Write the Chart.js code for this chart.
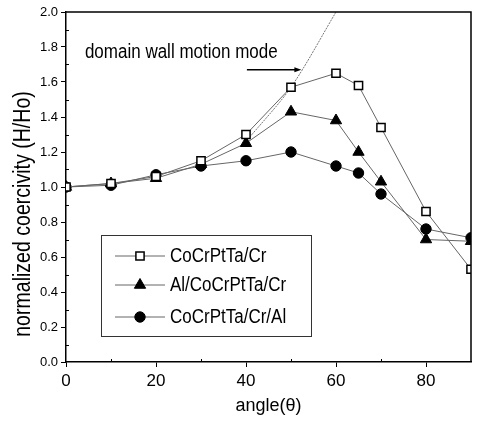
<!DOCTYPE html>
<html>
<head>
<meta charset="utf-8">
<script src="https://cdn.jsdelivr.net/npm/chart.js@4/dist/chart.umd.min.js"></script>
<style>
  html, body { margin: 0; padding: 0; background: #fff; }
  #wrap { width: 483px; height: 421px; position: relative; }
</style>
</head>
<body>
<div id="wrap"><canvas id="c" width="483" height="421"></canvas></div>
<script>
// Field angle (degrees) at which each coercivity was measured
const angles = [0, 10, 20, 30, 40, 50, 60, 65, 70, 80, 90];

// Normalized coercivity H/Ho for each film stack
const cocrpttaCr    = [1.00, 1.02, 1.06, 1.15, 1.30, 1.57, 1.65, 1.58, 1.34, 0.86, 0.53];
const alCocrpttaCr  = [1.00, 1.02, 1.05, 1.13, 1.25, 1.43, 1.38, 1.20, 1.03, 0.70, 0.69];
const cocrpttaCrAl  = [1.00, 1.01, 1.07, 1.12, 1.15, 1.20, 1.12, 1.08, 0.96, 0.76, 0.71];

// Domain-wall-motion reference curve
const wallAngles = [40, 50, 60];
const wallValues = [1.26, 1.57, 2.00];

// Axis ticks
const xTickValues = [0, 20, 40, 60, 80];
const xMinorTicks = [10, 30, 50, 70];
const yTickValues = [0.0, 0.2, 0.4, 0.6, 0.8, 1.0, 1.2, 1.4, 1.6, 1.8, 2.0];

// Text
const seriesLabels = ['CoCrPtTa/Cr', 'Al/CoCrPtTa/Cr', 'CoCrPtTa/Cr/Al'];
const annotationText = 'domain wall motion mode';
const annotationAt = { x: 4.2, y: 1.77 };
const arrowFrom = { x: 40.2, y: 1.67 };
const arrowTo = { x: 52.3, y: 1.67 };
const xTitle = 'angle(\u03B8)';
const yTitle = 'normalized coercivity (H/Ho)';

const FONT = "'Liberation Sans', Arial, sans-serif";
const NARROW = 0.85; // horizontal squeeze for a narrow face

const pairs = (xs, ys) => xs.map((x, i) => ({ x: x, y: ys[i] }));

const LINE = '#666';

const datasets = [
  {
    label: seriesLabels[0],
    data: pairs(angles, cocrpttaCr),
    borderColor: LINE, borderWidth: 1,
    pointStyle: 'rect', pointRadius: 5.8,
    pointBackgroundColor: '#fff', pointBorderColor: '#000', pointBorderWidth: 1.5
  },
  {
    label: seriesLabels[1],
    data: pairs(angles, alCocrpttaCr),
    borderColor: LINE, borderWidth: 1,
    pointStyle: 'triangle', pointRadius: 6.5,
    pointBackgroundColor: '#000', pointBorderColor: '#000', pointBorderWidth: 1
  },
  {
    label: seriesLabels[2],
    data: pairs(angles, cocrpttaCrAl),
    borderColor: LINE, borderWidth: 1,
    pointStyle: 'circle', pointRadius: 5.2,
    pointBackgroundColor: '#000', pointBorderColor: '#000', pointBorderWidth: 1
  },
  {
    label: 'wall',
    data: pairs(wallAngles, wallValues),
    borderColor: '#777', borderWidth: 1, borderDash: [2, 1],
    pointRadius: 0, tension: 0.3
  }
];

function narrowText(ctx, text, x, y, size, align) {
  ctx.save();
  ctx.translate(x, y);
  ctx.scale(NARROW, 1);
  ctx.font = size + 'px ' + FONT;
  ctx.textAlign = align || 'left';
  ctx.textBaseline = 'middle';
  ctx.fillText(text, 0, 0);
  ctx.restore();
}

// Frame, minor ticks, annotation, arrow, y title and legend box
const decorations = {
  id: 'decorations',
  afterDatasetsDraw(chart) {
    const { ctx, chartArea: a, scales } = chart;
    const xs = scales.x, ys = scales.y;
    ctx.save();

    // top and right frame
    ctx.strokeStyle = '#000';
    ctx.lineWidth = 1.5;
    ctx.beginPath();
    ctx.moveTo(a.left, a.top);
    ctx.lineTo(a.right, a.top);
    ctx.lineTo(a.right, a.bottom);
    ctx.stroke();

    // minor ticks pointing inward
    ctx.lineWidth = 1;
    ctx.beginPath();
    xMinorTicks.forEach(v => {
      const px = Math.round(xs.getPixelForValue(v)) + 0.5;
      ctx.moveTo(px, a.bottom);
      ctx.lineTo(px, a.bottom - 3);
    });
    for (let i = 0; i < yTickValues.length - 1; i++) {
      const py = Math.round(ys.getPixelForValue((yTickValues[i] + yTickValues[i + 1]) / 2)) + 0.5;
      ctx.moveTo(a.left, py);
      ctx.lineTo(a.left + 3, py);
    }
    ctx.stroke();

    // annotation
    ctx.fillStyle = '#000';
    narrowText(ctx, annotationText, xs.getPixelForValue(annotationAt.x), ys.getPixelForValue(annotationAt.y), 20);

    // arrow
    const ax0 = xs.getPixelForValue(arrowFrom.x), ay = ys.getPixelForValue(arrowFrom.y);
    const ax1 = xs.getPixelForValue(arrowTo.x);
    ctx.strokeStyle = '#000';
    ctx.lineWidth = 1.3;
    ctx.beginPath();
    ctx.moveTo(ax0, ay);
    ctx.lineTo(ax1 - 4, ay);
    ctx.stroke();
    ctx.beginPath();
    ctx.moveTo(ax1, ay);
    ctx.lineTo(ax1 - 7, ay - 2.5);
    ctx.lineTo(ax1 - 7, ay + 2.5);
    ctx.closePath();
    ctx.fill();

    // y axis title
    ctx.save();
    ctx.translate(24, (a.top + a.bottom) / 2 + 27);
    ctx.rotate(-Math.PI / 2);
    narrowText(ctx, yTitle, 0, 0, 23, 'center');
    ctx.restore();

    // legend box
    const bx = a.left + 35, by = a.top + 223, bw = 210, bh = 101;
    ctx.fillStyle = '#fff';
    ctx.fillRect(bx, by, bw, bh);
    ctx.strokeStyle = '#333';
    ctx.lineWidth = 1;
    ctx.strokeRect(bx + 0.5, by + 0.5, bw, bh);
    const rowY = [21, 50, 82];
    chart.data.datasets.slice(0, 3).forEach((ds, i) => {
      const y = by + rowY[i];
      ctx.strokeStyle = ds.borderColor;
      ctx.lineWidth = 1;
      ctx.beginPath();
      ctx.moveTo(bx + 14, y);
      ctx.lineTo(bx + 64, y);
      ctx.stroke();
      ctx.fillStyle = ds.pointBackgroundColor;
      ctx.strokeStyle = ds.pointBorderColor;
      ctx.lineWidth = ds.pointBorderWidth;
      Chart.helpers.drawPoint(ctx, { pointStyle: ds.pointStyle, radius: ds.pointRadius, rotation: 0, borderWidth: ds.pointBorderWidth }, bx + 39, y);
      ctx.fillStyle = '#000';
      narrowText(ctx, ds.label, bx + 69, y, 20);
    });

    ctx.restore();
  }
};

new Chart(document.getElementById('c'), {
  type: 'line',
  data: { datasets: datasets },
  options: {
    responsive: false,
    animation: false,
    events: [],
    layout: { padding: { left: 0, top: 12, right: 12, bottom: 0 } },
    plugins: { legend: { display: false }, tooltip: { enabled: false } },
    scales: {
      x: {
        type: 'linear', min: 0, max: 90,
        afterBuildTicks: s => { s.ticks = xTickValues.map(v => ({ value: v })); },
        afterFit: s => { s.height = 59; },
        grid: { drawOnChartArea: false, tickLength: 5, color: '#000', lineWidth: 1 },
        border: { color: '#000', width: 1.5 },
        ticks: { color: '#000', padding: 4, font: { family: FONT, size: 17 }, maxRotation: 0 },
        title: { display: true, text: xTitle, color: '#000', font: { family: FONT, size: 18 }, padding: { top: 5, bottom: 4 } }
      },
      y: {
        type: 'linear', min: 0, max: 2,
        afterBuildTicks: s => { s.ticks = yTickValues.map(v => ({ value: v })); },
        afterFit: s => { s.width = 66; },
        grid: { drawOnChartArea: false, tickLength: 5, color: '#000', lineWidth: 1 },
        border: { color: '#000', width: 1.5 },
        ticks: { color: '#000', padding: 3, font: { family: FONT, size: 13 }, callback: v => v.toFixed(1) }
      }
    }
  },
  plugins: [decorations]
});
</script>
</body>
</html>
